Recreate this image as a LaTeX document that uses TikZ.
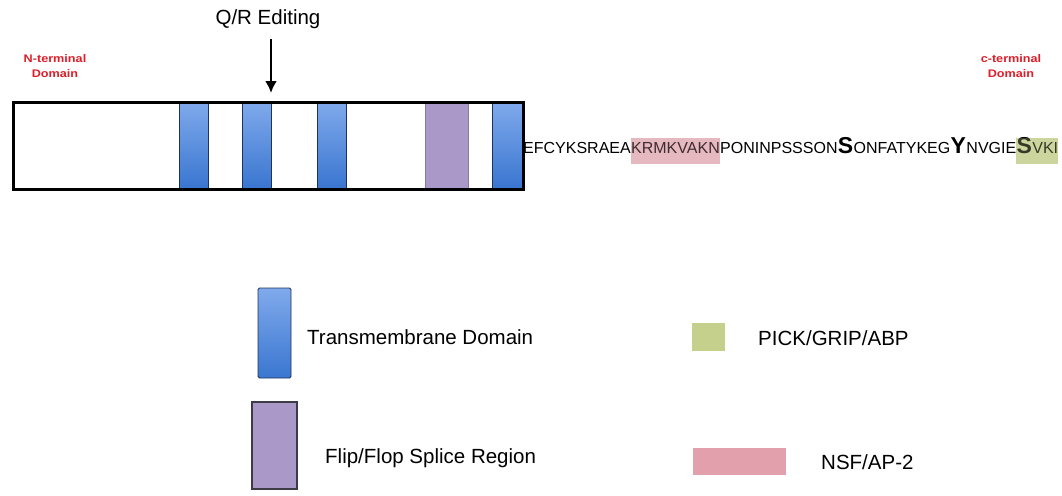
\documentclass[tikz,border=0pt]{standalone}
\usepackage{fontspec}
\setmainfont{Liberation Sans}
\usetikzlibrary{arrows.meta}

\definecolor{tmLight}{RGB}{128,170,236}
\definecolor{tmDark}{RGB}{58,118,208}
\definecolor{tmEdge}{RGB}{30,50,90}
\definecolor{flipFill}{RGB}{170,152,200}
\definecolor{flipEdge}{RGB}{60,60,70}
\definecolor{termRed}{RGB}{222,30,40}
\definecolor{nsfPink}{RGB}{226,160,172}
\definecolor{nsfSoft}{RGB}{232,196,200}
\definecolor{pickGreen}{RGB}{196,208,140}
\definecolor{pickSoft}{RGB}{208,216,164}

\tikzset{
  tmbar/.style={draw=tmEdge, line width=0.9pt, top color=tmLight, bottom color=tmDark},
  flipbar/.style={draw=flipEdge, line width=0.9pt, fill=flipFill},
  domainlabel/.style={text=termRed, font=\fontsize{11}{13}\selectfont\bfseries,
    xscale=1.15, align=center, inner sep=0pt},
  legendtext/.style={font=\fontsize{20.5}{23}\selectfont, anchor=west, inner sep=0pt},
  seqpart/.style={anchor=base west, inner sep=0pt, font=\fontsize{16}{16}\selectfont},
  bigres/.style={font=\fontsize{23}{23}\selectfont\bfseries},
  tint/.style={fill opacity=0.28},
}

\begin{document}
\begin{tikzpicture}[x=1pt, y=-1pt]
\useasboundingbox (0,0) rectangle (1062,495);

% receptor subunit body
\path[fill=white] (12,101) rectangle (522,188);
\path[tmbar] (179,101) rectangle (208,188);
\path[tmbar] (242,101) rectangle (271,188);
\path[tmbar] (317,101) rectangle (346,188);
\path[flipbar, draw=flipFill!80!black, line width=0.6pt] (425,101) rectangle (468,188);
\path[tmbar] (492,101) rectangle (522,188);
\node[draw=black, line width=2.8pt, minimum width=510pt, minimum height=87pt,
      inner sep=0pt, anchor=north west] (body) at (12,101) {};

% editing site
\node[font=\fontsize{20.5}{23}\selectfont, inner sep=0pt] (qr) at (268,19) {Q/R Editing};
\coordinate (qrtip) at (271,93);
\draw[line width=2.8pt, -{Latex[length=12pt,width=12pt]}] (qr.south -| qrtip) ++(0,10) -- (qrtip);

% terminal labels
\node[domainlabel] (nterm) at (55,66) {N-terminal\\[2pt]Domain};
\node[domainlabel] (cterm) at (1011,66) {c-terminal\\[2pt]Domain};

% C-terminal tail sequence: highlighted stretches are laid out first
\node[seqpart] (s1) at (523,153) {\phantom{EFCYKSRAEA}};
\node[seqpart] (s2) at (s1.base east) {\phantom{KRMKVAKN}};
\node[seqpart] (s3) at (s2.base east) {\phantom{PONINPSSSON}};
\node[seqpart, bigres] (s4) at (s3.base east) {\phantom{S}};
\node[seqpart] (s5) at (s4.base east) {\phantom{ONFATYKEG}};
\node[seqpart, bigres] (s6) at (s5.base east) {\phantom{Y}};
\node[seqpart] (s7) at (s6.base east) {\phantom{NVGIE}};
\node[seqpart, bigres] (s8) at (s7.base east) {\phantom{S}};
\node[seqpart] (s9) at (s8.base east) {\phantom{VKI}};

\coordinate (hltop) at (0,138);
\coordinate (hlbot) at (0,164);
\path[fill=nsfSoft] (s2.west |- hltop) rectangle (s2.east |- hlbot);
\path[fill=pickSoft] (s8.west |- hltop) rectangle (s9.east |- hlbot);

\node[seqpart] at (s1.base west) {EFCYKSRAEA};
\node[seqpart] at (s2.base west) {KRMKVAKN};
\node[seqpart] at (s3.base west) {PONINPSSSON};
\node[seqpart, bigres] at (s4.base west) {S};
\node[seqpart] at (s5.base west) {ONFATYKEG};
\node[seqpart, bigres] at (s6.base west) {Y};
\node[seqpart] at (s7.base west) {NVGIE};
\node[seqpart, bigres] at (s8.base west) {S};
\node[seqpart] at (s9.base west) {VKI};

\path[tint, fill=nsfPink] (s2.west |- hltop) rectangle (s2.east |- hlbot);
\path[tint, fill=pickGreen] (s8.west |- hltop) rectangle (s9.east |- hlbot);

% legend
\path[tmbar, rounded corners=1.5pt] (258,288) rectangle (291,378);
\node[legendtext] (tmtext) at (307,337) {Transmembrane Domain};
\path[flipbar, line width=1.3pt] (252,402) rectangle (297,489);
\node[legendtext] (fliptext) at (325,458) {Flip/Flop Splice Region};
\path[fill=pickGreen] (692,323) rectangle (725,351);
\node[legendtext] (picktext) at (758,338) {PICK/GRIP/ABP};
\path[fill=nsfPink] (693,448) rectangle (786,475);
\node[legendtext] (nsftext) at (821,462) {NSF/AP-2};
\end{tikzpicture}
\end{document}
